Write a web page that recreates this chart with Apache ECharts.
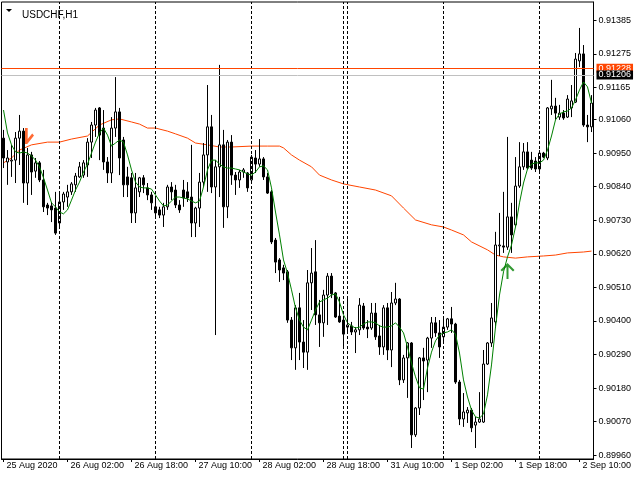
<!DOCTYPE html>
<html><head><meta charset="utf-8">
<script src="https://cdn.jsdelivr.net/npm/echarts@6/dist/echarts.min.js"></script>
<style>html,body{margin:0;padding:0;background:#fff}#c{width:640px;height:480px}</style>
</head><body><div id="c"></div>
<script>
// hourly sessions shown on the chart (day, first hour, last hour)
const daySegments = [['25 Aug',10,23],['26 Aug',0,23],['27 Aug',0,23],['28 Aug',0,22],['30 Aug',23,23],['31 Aug',0,23],['1 Sep',0,23],['2 Sep',0,13]];
const categories = [];
daySegments.forEach(function(s){for(let h=s[1];h<=s[2];h++) categories.push(s[0]+' '+String(h).padStart(2,'0')+':00');});

const xTickIndex = [0,16,32,48,64,80,96,112,128,144];
const xTickText = ['25 Aug 2020','26 Aug 02:00','26 Aug 18:00','27 Aug 10:00','28 Aug 02:00','28 Aug 18:00','31 Aug 10:00','1 Sep 02:00','1 Sep 18:00','2 Sep 10:00'];
const daySeparators = [14,38,62,85,86,110,134];
const yTicks = [0.89960,0.90070,0.90180,0.90290,0.90400,0.90510,0.90620,0.90730,0.90840,0.90950,0.91060,0.91165,0.91275,0.91385];
const askPrice = 0.91228;
const bidPrice = 0.91206;
const sellArrow = [6, 0.91006];
const buyArrow = [126, 0.90564];

const opens = [0.90999,0.90921,0.90924,0.90927,0.90999,0.91022,0.90852,0.90944,0.90891,0.90918,
0.90862,0.90780,0.90777,0.90770,0.90721,0.90790,0.90806,0.90823,0.90846,0.90872,
0.90878,0.90911,0.90986,0.91042,0.91098,0.91032,0.90921,0.90885,0.91032,0.91085,
0.90993,0.90872,0.90869,0.90754,0.90823,0.90869,0.90836,0.90813,0.90774,0.90764,
0.90747,0.90774,0.90839,0.90829,0.90780,0.90829,0.90823,0.90806,0.90721,0.90770,
0.90855,0.90944,0.91036,0.90839,0.90905,0.90977,0.90774,0.90986,0.90878,0.90862,
0.90888,0.90885,0.90862,0.90934,0.90914,0.90931,0.90872,0.90823,0.90665,0.90600,
0.90574,0.90561,0.90403,0.90312,0.90443,0.90331,0.90298,0.90525,0.90561,0.90420,
0.90394,0.90485,0.90547,0.90492,0.90416,0.90403,0.90380,0.90384,0.90364,0.90371,
0.90449,0.90380,0.90377,0.90426,0.90351,0.90315,0.90443,0.90305,0.90459,0.90472,
0.90207,0.90279,0.90328,0.90027,0.90115,0.90279,0.90272,0.90344,0.90394,0.90361,
0.90348,0.90380,0.90407,0.90390,0.90200,0.90079,0.90099,0.90108,0.90059,0.90069,
0.90069,0.90259,0.90328,0.90397,0.90646,0.90646,0.90642,0.90741,0.90715,0.90842,
0.90905,0.90954,0.90927,0.90924,0.90898,0.90950,0.90934,0.91095,0.91104,0.91068,
0.91081,0.91068,0.91098,0.91117,0.91252,0.91275,0.91042,0.91036];
const closes = [0.90934,0.90934,0.90927,0.90999,0.91022,0.90852,0.90944,0.90888,0.90918,0.90862,
0.90774,0.90770,0.90764,0.90688,0.90790,0.90816,0.90823,0.90849,0.90875,0.90905,
0.90918,0.90986,0.91042,0.91091,0.91009,0.90921,0.90885,0.91032,0.91085,0.90934,
0.90846,0.90846,0.90754,0.90836,0.90869,0.90846,0.90813,0.90787,0.90754,0.90747,
0.90774,0.90839,0.90823,0.90780,0.90764,0.90803,0.90803,0.90721,0.90770,0.90855,
0.90944,0.91036,0.90839,0.90905,0.90977,0.90774,0.90986,0.90878,0.90862,0.90888,
0.90895,0.90836,0.90937,0.90914,0.90931,0.90872,0.90819,0.90659,0.90593,0.90567,
0.90557,0.90403,0.90312,0.90443,0.90331,0.90298,0.90525,0.90557,0.90420,0.90394,
0.90485,0.90547,0.90489,0.90413,0.90397,0.90357,0.90387,0.90364,0.90371,0.90452,
0.90377,0.90374,0.90426,0.90348,0.90315,0.90443,0.90305,0.90459,0.90472,0.90207,
0.90279,0.90328,0.90027,0.90115,0.90279,0.90269,0.90344,0.90394,0.90361,0.90315,
0.90380,0.90407,0.90390,0.90200,0.90079,0.90102,0.90108,0.90050,0.90069,0.90079,
0.90259,0.90328,0.90410,0.90649,0.90649,0.90642,0.90741,0.90682,0.90842,0.90905,
0.90954,0.90901,0.90901,0.90898,0.90950,0.90937,0.91098,0.91104,0.91081,0.91081,
0.91065,0.91127,0.91121,0.91258,0.91275,0.91042,0.91036,0.91114];
const highs = [0.91026,0.90960,0.90977,0.91019,0.91075,0.91032,0.90967,0.90954,0.90934,0.90924,
0.90895,0.90787,0.90790,0.90823,0.90819,0.90823,0.90846,0.90855,0.90885,0.90921,
0.90927,0.90999,0.91052,0.91098,0.91101,0.91091,0.90937,0.91068,0.91199,0.91098,
0.91003,0.90905,0.90885,0.90885,0.90872,0.90878,0.90852,0.90823,0.90803,0.90774,
0.90787,0.90846,0.90855,0.90846,0.90796,0.90862,0.90855,0.90977,0.90774,0.90885,
0.90983,0.91173,0.91075,0.90927,0.91239,0.91026,0.90993,0.91009,0.90888,0.90895,
0.90901,0.90888,0.90944,0.90960,0.90996,0.90937,0.90885,0.90829,0.90672,0.90606,
0.90584,0.90567,0.90413,0.90452,0.90492,0.90403,0.90567,0.90639,0.90665,0.90469,
0.90502,0.90557,0.90557,0.90495,0.90479,0.90413,0.90479,0.90397,0.90380,0.90475,
0.90459,0.90403,0.90459,0.90459,0.90387,0.90452,0.90459,0.90495,0.90525,0.90475,
0.90289,0.90331,0.90331,0.90118,0.90282,0.90312,0.90348,0.90413,0.90413,0.90403,
0.90410,0.90410,0.90446,0.90394,0.90207,0.90164,0.90118,0.90115,0.90086,0.90167,
0.90305,0.90331,0.90459,0.90692,0.90754,0.90823,0.91003,0.90787,0.90937,0.90986,
0.90983,0.90986,0.90954,0.90937,0.90960,0.90954,0.91101,0.91190,0.91131,0.91108,
0.91091,0.91140,0.91173,0.91278,0.91360,0.91304,0.91075,0.91140];
const lows = [0.90901,0.90846,0.90872,0.90852,0.90911,0.90787,0.90780,0.90813,0.90869,0.90855,
0.90757,0.90747,0.90724,0.90682,0.90705,0.90764,0.90774,0.90813,0.90823,0.90869,
0.90869,0.90872,0.90934,0.91003,0.90927,0.90895,0.90852,0.90852,0.91003,0.90878,
0.90806,0.90806,0.90721,0.90721,0.90806,0.90819,0.90796,0.90764,0.90741,0.90737,
0.90708,0.90764,0.90796,0.90770,0.90754,0.90774,0.90790,0.90675,0.90675,0.90708,
0.90839,0.90823,0.90819,0.90354,0.90806,0.90705,0.90737,0.90846,0.90813,0.90836,
0.90869,0.90823,0.90852,0.90885,0.90905,0.90862,0.90816,0.90652,0.90557,0.90528,
0.90534,0.90394,0.90272,0.90240,0.90272,0.90246,0.90240,0.90436,0.90387,0.90315,
0.90348,0.90387,0.90475,0.90410,0.90394,0.90315,0.90361,0.90354,0.90295,0.90354,
0.90371,0.90344,0.90371,0.90338,0.90289,0.90289,0.90272,0.90249,0.90452,0.90190,
0.90197,0.90148,0.89984,0.90020,0.90092,0.90141,0.90167,0.90312,0.90348,0.90279,
0.90331,0.90371,0.90361,0.90194,0.90059,0.90053,0.90066,0.90036,0.89984,0.90066,
0.90066,0.90256,0.90315,0.90377,0.90613,0.90623,0.90633,0.90623,0.90708,0.90836,
0.90895,0.90895,0.90895,0.90888,0.90885,0.90934,0.90927,0.91075,0.91059,0.91059,
0.91059,0.91065,0.91068,0.91114,0.91232,0.91036,0.90986,0.91019];

// fast moving average (green), read per bar
const fastMA = [0.91091,0.91016,0.90977,0.90954,0.90950,0.90954,0.90950,0.90941,0.90927,0.90905,
0.90869,0.90829,0.90787,0.90774,0.90757,0.90751,0.90764,0.90796,0.90829,0.90855,
0.90888,0.90914,0.90950,0.90986,0.91016,0.91032,0.91009,0.90973,0.90983,0.90993,
0.90986,0.90944,0.90895,0.90855,0.90839,0.90836,0.90836,0.90832,0.90813,0.90793,
0.90777,0.90780,0.90793,0.90806,0.90806,0.90803,0.90800,0.90793,0.90787,0.90793,
0.90839,0.90895,0.90927,0.90927,0.90914,0.90905,0.90901,0.90901,0.90898,0.90895,
0.90888,0.90882,0.90878,0.90888,0.90905,0.90908,0.90895,0.90836,0.90757,0.90682,
0.90600,0.90557,0.90502,0.90443,0.90403,0.90380,0.90371,0.90403,0.90436,0.90462,
0.90469,0.90475,0.90485,0.90489,0.90462,0.90420,0.90394,0.90384,0.90377,0.90380,
0.90390,0.90397,0.90397,0.90394,0.90384,0.90380,0.90380,0.90384,0.90394,0.90380,
0.90361,0.90315,0.90262,0.90217,0.90181,0.90177,0.90246,0.90298,0.90335,0.90354,
0.90361,0.90364,0.90371,0.90357,0.90295,0.90207,0.90151,0.90108,0.90086,0.90082,
0.90095,0.90158,0.90256,0.90380,0.90485,0.90561,0.90610,0.90649,0.90708,0.90787,
0.90852,0.90898,0.90914,0.90918,0.90918,0.90927,0.90960,0.91006,0.91059,0.91078,
0.91085,0.91088,0.91098,0.91124,0.91157,0.91183,0.91167,0.91114];

// slow moving average (orange), read at sample bars
const slowIdx = [0,2,4,7,11,14,17,21,24,27,29,32,34,36,38,41,43,46,48,51,54,57,62,66,69,70,72,74,77,79,82,85,89,93,97,100,103,107,110,112,115,117,121,123,125,128,131,135,138,141,145,147];
const slowMA = [0.90918,0.90934,0.90960,0.90977,0.90986,0.90986,0.90996,0.91006,0.91042,0.91059,0.91062,0.91052,0.91045,0.91032,0.91032,0.91022,0.91013,0.90999,0.90983,0.90977,0.90970,0.90970,0.90973,0.90973,0.90973,0.90967,0.90944,0.90927,0.90905,0.90878,0.90862,0.90849,0.90839,0.90829,0.90810,0.90770,0.90731,0.90715,0.90708,0.90698,0.90682,0.90659,0.90633,0.90616,0.90610,0.90606,0.90610,0.90613,0.90616,0.90623,0.90626,0.90629];

const candleData = opens.map(function(o,i){return [o, closes[i], lows[i], highs[i]];});
const slowData = slowIdx.map(function(x,k){return [x, slowMA[k]];});
const FONT = 'Liberation Sans';
const ORANGE = '#FF4500';

const chart = echarts.init(document.getElementById('c'), null, {renderer:'canvas'});
chart.setOption({
  animation: false,
  backgroundColor: '#fff',
  textStyle: {fontFamily: FONT},
  title: {text: 'USDCHF,H1', left: 17, top: 5, textStyle: {fontSize: 10, fontWeight: 'normal', color: '#000', fontFamily: FONT}},
  graphic: [{type: 'polygon', shape: {points: [[6,9],[12,9],[9,12]]}, style: {fill: '#000'}}],
  grid: {left: 1.5, right: 46.5, top: 2, bottom: 21, show: true, borderColor: '#000', borderWidth: 1, backgroundColor: '#fff', containLabel: false, outerBoundsMode: 'none'},
  xAxis: {
    type: 'category', data: categories, boundaryGap: true,
    axisLine: {show: true, lineStyle: {color: '#000', width: 1}},
    axisTick: {show: true, alignWithLabel: true, length: 3, lineStyle: {color: '#000'},
      interval: function(i){return xTickIndex.indexOf(i) >= 0;}},
    axisLabel: {show: true, interval: function(i){return xTickIndex.indexOf(i) >= 0;},
      formatter: function(v, i){const k = xTickIndex.indexOf(i); return k >= 0 ? xTickText[k] : '';},
      align: 'left', padding: [0,0,0,3], margin: 2, fontSize: 9, color: '#000', fontFamily: FONT, hideOverlap: false},
    splitLine: {show: false}
  },
  yAxis: {
    type: 'value', position: 'right', min: 0.899479, max: 0.914450, scale: true,
    axisLine: {show: true, lineStyle: {color: '#000', width: 1}},
    axisTick: {show: true, length: 3, lineStyle: {color: '#000'}, customValues: yTicks},
    axisLabel: {show: true, customValues: yTicks, formatter: function(v){return v.toFixed(5);}, margin: 5, fontSize: 9, color: '#000', fontFamily: FONT},
    splitLine: {show: false}
  },
  series: [
    {
      type: 'candlestick', data: candleData, barWidth: 2, z: 3,
      itemStyle: {color: '#fff', color0: '#000', borderColor: '#000', borderColor0: '#000', borderColorDoji: '#000', borderWidth: 1},
      markLine: {
        symbol: 'none', silent: true, animation: false,
        data: daySeparators.map(function(d){return {xAxis: d, lineStyle: {type: [3,2], color: '#000', width: 1}, label: {show: false}};})
      }
    },
    {type: 'line', data: slowData, showSymbol: false, z: 2, lineStyle: {color: ORANGE, width: 1},
      markLine: {
        symbol: 'none', silent: true, animation: false, precision: 5,
        data: [
          {yAxis: askPrice, lineStyle: {type: 'solid', color: ORANGE, width: 1},
            label: {show: true, position: 'end', distance: 3, formatter: askPrice.toFixed(5), color: '#fff', backgroundColor: ORANGE, padding: [0,2], lineHeight: 9, fontSize: 9, fontFamily: FONT}},
          {yAxis: bidPrice, lineStyle: {type: 'solid', color: '#C0C0C0', width: 1},
            label: {show: true, position: 'end', distance: 3, formatter: bidPrice.toFixed(5), color: '#fff', backgroundColor: '#000', padding: [0,2], lineHeight: 9, fontSize: 9, fontFamily: FONT}}
        ]
      }
    },
    {type: 'line', data: fastMA, showSymbol: false, z: 4, lineStyle: {color: '#008000', width: 1}},
    {type: 'scatter', data: [sellArrow], z: 5, symbol: 'path://M0,0 L3,0 L3,11 L8,5.5 L10,7.5 L2.5,16 L0,16 Z', symbolSize: [9,16], symbolOffset: [2,0], itemStyle: {color: ORANGE}},
    {type: 'scatter', data: [buyArrow], z: 5, symbol: 'path://M7,0 L14,7 L12.5,8.5 L8,4 L8,16 L6,16 L6,4 L1.5,8.5 L0,7 Z', symbolSize: [14,16], itemStyle: {color: '#008000'}}
  ]
});
</script>
</body></html>
